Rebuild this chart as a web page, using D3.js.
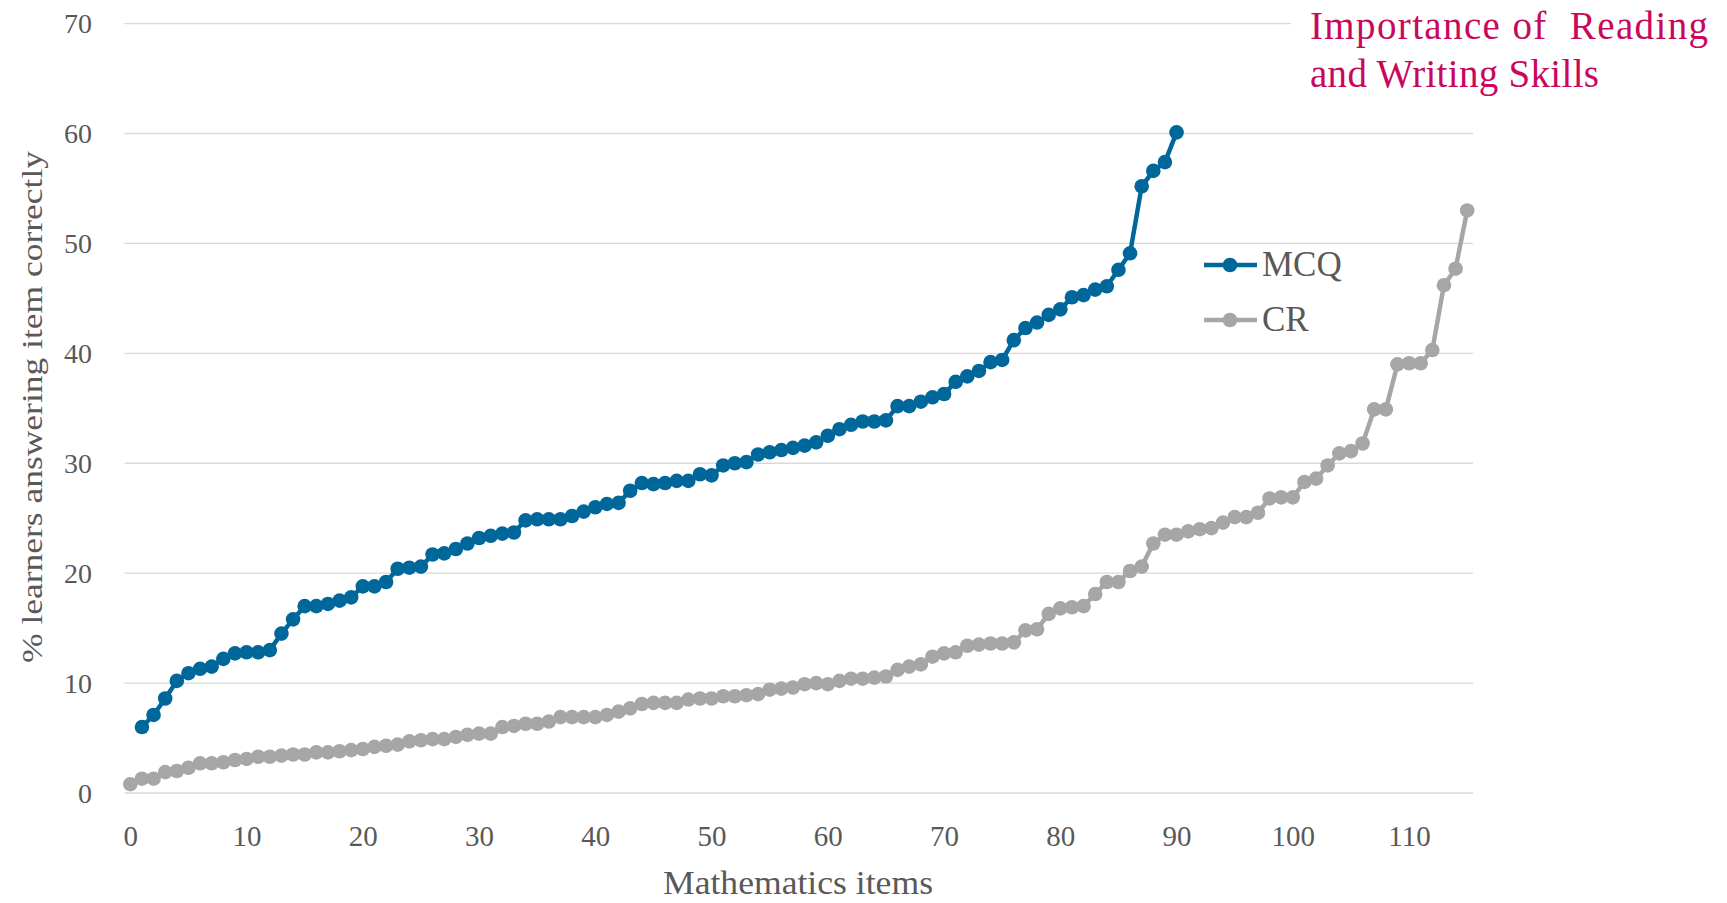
<!DOCTYPE html>
<html>
<head>
<meta charset="utf-8">
<script src="https://cdn.jsdelivr.net/npm/d3@7"></script>
<style>
  html, body { margin: 0; padding: 0; background: #ffffff; }
  svg { display: block; }
</style>
</head>
<body>
<svg id="chart" width="1727" height="903"></svg>
<script>
// ---- data ----
const seriesNames = ["MCQ", "CR"];
const mcqStart = 1;
const mcqValues = [
  6.0, 7.1, 8.6, 10.2, 10.9, 11.3, 11.5, 12.2, 12.7, 12.8,
  12.8, 13.0, 14.5, 15.8, 17.0, 17.0, 17.2, 17.5, 17.8, 18.8,
  18.8, 19.2, 20.4, 20.5, 20.6, 21.7, 21.8, 22.2, 22.7, 23.2,
  23.4, 23.6, 23.7, 24.8, 24.9, 24.9, 24.9, 25.2, 25.6, 26.0,
  26.3, 26.4, 27.5, 28.2, 28.1, 28.2, 28.4, 28.4, 29.0, 28.9,
  29.8, 30.0, 30.1, 30.8, 31.0, 31.2, 31.4, 31.6, 31.9, 32.5,
  33.1, 33.5, 33.8, 33.8, 33.9, 35.2, 35.2, 35.6, 36.0, 36.3,
  37.4, 37.9, 38.4, 39.2, 39.4, 41.2, 42.3, 42.8, 43.5, 44.0,
  45.1, 45.3, 45.8, 46.1, 47.6, 49.1, 55.2, 56.6, 57.4, 60.1
];
const crStart = 0;
const crValues = [
  0.8, 1.3, 1.3, 1.9, 2.0, 2.3, 2.7, 2.7, 2.8, 3.0,
  3.1, 3.3, 3.3, 3.4, 3.5, 3.5, 3.7, 3.7, 3.8, 3.9,
  4.0, 4.2, 4.3, 4.4, 4.7, 4.8, 4.9, 4.9, 5.1, 5.3,
  5.4, 5.4, 6.0, 6.1, 6.3, 6.3, 6.5, 6.9, 6.9, 6.9,
  6.9, 7.1, 7.4, 7.7, 8.1, 8.2, 8.2, 8.2, 8.5, 8.6,
  8.6, 8.8, 8.8, 8.9, 9.0, 9.4, 9.5, 9.6, 9.9, 10.0,
  9.9, 10.2, 10.4, 10.4, 10.5, 10.6, 11.2, 11.5, 11.7, 12.4,
  12.7, 12.8, 13.4, 13.5, 13.6, 13.6, 13.7, 14.8, 14.9, 16.3,
  16.8, 16.9, 17.0, 18.1, 19.2, 19.2, 20.2, 20.6, 22.7, 23.5,
  23.5, 23.8, 24.0, 24.1, 24.6, 25.1, 25.1, 25.5, 26.8, 26.9,
  26.9, 28.3, 28.6, 29.8, 30.9, 31.1, 31.8, 34.9, 34.9, 39.0,
  39.1, 39.1, 40.3, 46.2, 47.7, 53.0
];
const xTicks = [0, 10, 20, 30, 40, 50, 60, 70, 80, 90, 100, 110];
const yTicks = [0, 10, 20, 30, 40, 50, 60, 70];
const xTitle = "Mathematics items";
const yTitle = "% learners answering item correctly";
const titleLines = ["Importance of\u00A0 Reading", "and Writing Skills"];

// ---- styles ----
const colors = { MCQ: "#00679A", CR: "#A6A6A6" };
const font = "'Liberation Serif', 'DejaVu Serif', serif";
const textColor = "#595959";

const svg = d3.select("#chart");

const x = d3.scaleLinear().domain([-0.5, 115.5]).range([124.5, 1473]);
const y = d3.scaleLinear().domain([0, 70]).range([793, 23.6]);

// gridlines
svg.append("g").selectAll("line").data(yTicks).join("line")
  .attr("x1", x(-0.5)).attr("x2", x(115.5))
  .attr("y1", d => y(d)).attr("y2", d => y(d))
  .attr("stroke", "#D9D9D9").attr("stroke-width", 1.3);

// y tick labels via axis
const yAxis = svg.append("g").attr("transform", "translate(92,0)")
  .call(d3.axisLeft(y).tickValues(yTicks).tickSize(0).tickPadding(0));
yAxis.select(".domain").remove();
yAxis.selectAll("text").attr("font-family", font).attr("font-size", 28)
  .attr("fill", textColor).attr("dy", "0.33em");

// x tick labels via axis
const xAxis = svg.append("g").attr("transform", "translate(0,820)")
  .call(d3.axisBottom(x).tickValues(xTicks).tickSize(0).tickPadding(0));
xAxis.select(".domain").remove();
xAxis.selectAll("text").attr("font-family", font).attr("font-size", 29)
  .attr("fill", textColor).attr("dy", "0.9em");

// axis titles
svg.append("text").attr("x", 798).attr("y", 894)
  .attr("text-anchor", "middle").attr("font-family", font).attr("font-size", 33)
  .attr("fill", textColor)
  .attr("textLength", 270).attr("lengthAdjust", "spacingAndGlyphs")
  .text(xTitle);
svg.append("text").attr("transform", "translate(42,407) rotate(-90)")
  .attr("text-anchor", "middle").attr("font-family", font).attr("font-size", 29)
  .attr("fill", textColor)
  .attr("textLength", 512).attr("lengthAdjust", "spacingAndGlyphs")
  .text(yTitle);

// series
const series = [
  { name: "CR", start: crStart, values: crValues },
  { name: "MCQ", start: mcqStart, values: mcqValues }
];
const line = d3.line().x(d => x(d.i)).y(d => y(d.v));
series.forEach(s => {
  const pts = s.values.map((v, k) => ({ i: s.start + k, v }));
  const g = svg.append("g");
  g.append("path").datum(pts).attr("d", line)
    .attr("fill", "none").attr("stroke", colors[s.name])
    .attr("stroke-width", 4.5).attr("stroke-linejoin", "round");
  g.selectAll("circle").data(pts).join("circle")
    .attr("cx", d => x(d.i)).attr("cy", d => y(d.v)).attr("r", 7.3)
    .attr("fill", colors[s.name]);
});

// legend
const legendY = { MCQ: 265, CR: 320 };
seriesNames.forEach(name => {
  const ly = legendY[name];
  svg.append("line").attr("x1", 1204).attr("x2", 1257).attr("y1", ly).attr("y2", ly)
    .attr("stroke", colors[name]).attr("stroke-width", 4.5);
  svg.append("circle").attr("cx", 1230).attr("cy", ly).attr("r", 7.3).attr("fill", colors[name]);
  svg.append("text").attr("x", 1262).attr("y", ly + 11)
    .attr("font-family", font).attr("font-size", 35).attr("fill", textColor).text(name);
});

// title box
svg.append("rect").attr("x", 1291).attr("y", 0).attr("width", 436).attr("height", 100).attr("fill", "#ffffff");
const tl = svg.append("text").attr("font-family", font).attr("font-size", 39).attr("fill", "#C8085C");
tl.append("tspan").attr("x", 1310).attr("y", 39)
  .attr("textLength", 398).attr("lengthAdjust", "spacing").text(titleLines[0]);
tl.append("tspan").attr("x", 1310).attr("y", 87)
  .attr("textLength", 289).attr("lengthAdjust", "spacing").text(titleLines[1]);
</script>
</body>
</html>
